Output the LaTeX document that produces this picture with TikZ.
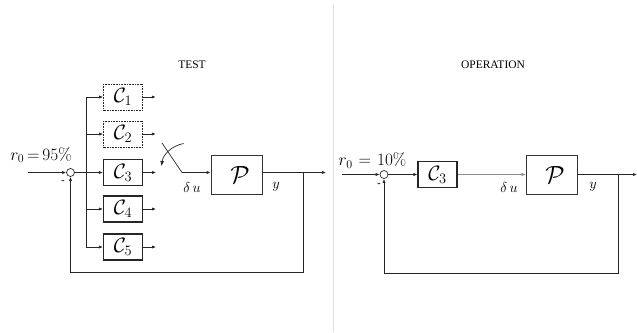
\documentclass[tikz,border=0pt]{standalone}
\usepackage[no-math]{fontspec}
\setmainfont{Liberation Serif}
\usetikzlibrary{arrows.meta}
\begin{document}
\begin{tikzpicture}[x=1pt,y=-1pt,
  wire/.style={draw=black!85,line width=0.7pt},
  arr/.style={wire,-{Latex[length=4pt,width=3.2pt]}},
  cbox/.style={draw=black!85,line width=1.1pt,minimum width=39pt,minimum height=26pt,inner sep=0pt,font=\fontsize{22}{24}\selectfont},
  cdot/.style={cbox,line width=0.6pt,densely dotted},
  pbox/.style={draw=black!80,line width=0.7pt,minimum width=51pt,minimum height=39pt,inner sep=0pt,font=\fontsize{25}{27}\selectfont},
  sumc/.style={circle,draw=black!85,line width=0.7pt,minimum size=8pt,inner sep=0pt},
  ttl/.style={font=\fontsize{11.5}{13}\selectfont},
  lbl/.style={inner sep=0pt,font=\fontsize{14}{16}\selectfont},
  rlbl/.style={inner sep=0pt,anchor=base,font=\fontsize{17.5}{19}\selectfont},
  rlblb/.style={inner sep=0pt,anchor=base,font=\fontsize{17}{19}\selectfont}]
\useasboundingbox (0,0) rectangle (637,332);
% separator
\draw[black!12,line width=0.8pt] (333,5) -- (333,332);
% ---------- TEST ----------
\node[ttl] (test) at (192,65) {TEST};
\node[sumc] (s1) at (70.5,172.5) {};
\coordinate (in1) at (28,172.5);
\coordinate (b1) at (86,97);
\coordinate (b5) at (86,247);
\node[cdot] (c1) at (123,97) {$\mathcal{C}_1$};
\node[cdot] (c2) at (123,134) {$\mathcal{C}_2$};
\node[cbox] (c3) at (123,172.5) {$\mathcal{C}_3$};
\node[cbox] (c4) at (123,209) {$\mathcal{C}_4$};
\node[cbox] (c5) at (123,247) {$\mathcal{C}_5$};
\foreach \i in {1,...,5} {
  \coordinate (o\i) at ([xshift=13pt]c\i.east);
  \draw[arr] (c\i.east) -- (o\i);
  \draw[arr] (c\i.west -| b1) -- (c\i.west);
}
\draw[arr] (in1) -- (s1.west);
\draw[wire] (s1.east) -- (s1.east -| b1);
\draw[wire] (b1) -- (b5);
\node[rlbl] (r1) at (41,160) {$r_0\,{=}\,95\%$};
\node[inner sep=0pt,font=\bfseries] (m1) at (63,182) {-};
% switch
\coordinate (sw1) at (182,172.5);
\coordinate (sw2) at (162,143);
\coordinate (ca) at (183.5,143.5);
\coordinate (cb) at (161.5,166);
\draw[wire] (sw2) -- (sw1);
\draw[wire,-{Latex[length=5pt,width=4pt]}] (ca) .. controls (171,146) and (163,155) .. (cb);
\node[pbox] (p1) at (236.5,174.5) {$\;\mathcal{P}$};
\draw[arr] (sw1) -- (sw1 -| p1.west);
\coordinate (out1) at (326,172.5);
\coordinate (j1) at (303,172.5);
\draw[arr] (p1.east |- out1) -- (out1);
\coordinate (f1) at (303,272);
\coordinate (f2) at (70.5,272);
\draw[arr] (j1) -- (f1) -- (f2) -- (s1.south);
\node[lbl] (du1) at (192,187) {$\delta\,u$};
\node[lbl] (y1) at (276,187) {$y$};
% ---------- OPERATION ----------
\node[ttl] (op) at (493,65) {OPERATION};
\node[sumc] (s2) at (384,174.5) {};
\coordinate (in2) at (342,174.5);
\draw[arr] (in2) -- (s2.west);
\node[rlblb] (r2) at (372.5,165.5) {$r_0\hspace{6pt}{=}\hspace{6pt}10\%$};
\node[inner sep=0pt,font=\bfseries] (m2) at (379,185) {-};
\node[cbox] (c32) at (437.5,174.5) {$\mathcal{C}_3$};
\draw[arr] (s2.east) -- (c32.west);
\node[pbox] (p2) at (551.5,174.5) {$\;\mathcal{P}$};
\draw[black!45,line width=0.5pt,-{Latex[length=4pt,width=3.2pt]}] (c32.east) -- (p2.west);
\coordinate (out2) at (637,174.5);
\coordinate (j2) at (618,174.5);
\draw[arr] (p2.east) -- (out2);
\coordinate (f3) at (618,273);
\coordinate (f4) at (384,273);
\draw[arr] (j2) -- (f3) -- (f4) -- (s2.south);
\node[lbl] (du2) at (509,187) {$\delta\,u$};
\node[lbl] (y2) at (593,187) {$y$};
\end{tikzpicture}
\end{document}
